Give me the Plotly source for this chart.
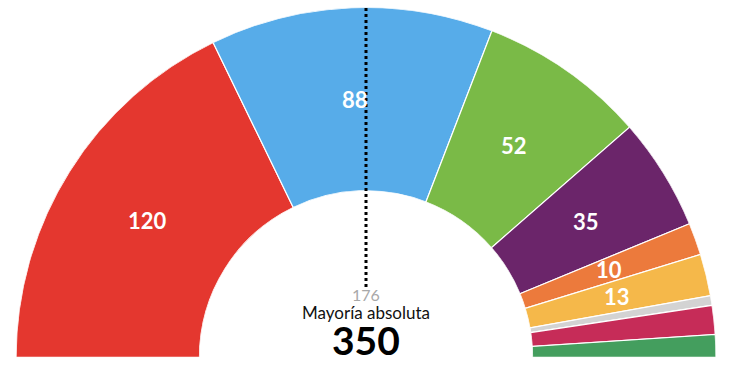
import math
import plotly.graph_objects as go

parties = ["PSOE", "PP", "Vox", "UP", "Cs", "ERC", "Otros", "JxCat", "PNV"]
seats = [120, 88, 52, 35, 10, 13, 3, 9, 7]
colors = ["#E4372F", "#57ACE9", "#7ABA47", "#6B256A", "#EC7A3C", "#F5B84A",
          "#D3D3D3", "#C62C58", "#449E5E"]
majority_label = "176"
caption = "Mayoría absoluta"
total_label = "350"

W, H = 737, 377
cx, cy = 366.0, 357.3          # hemicycle centre (px)
R_out, R_in = 350.0, 166.5     # radii (px)
hole = R_in / R_out

total = sum(seats)
widths = [s * 180.0 / total for s in seats]
thetas = []
acc = 0.0
for w in widths:
    thetas.append(acc + w / 2)
    acc += w

fig = go.Figure()
fig.add_trace(go.Barpolar(
    r=[1] * len(seats), theta=thetas, width=widths,
    marker=dict(color=colors, line=dict(color="white", width=1.2)),
    hoverinfo="text", text=[f"{p}: {s}" for p, s in zip(parties, seats)],
    showlegend=False,
))

annotations = []
r_lab = (R_in + R_out) / 2
for s, th in zip(seats, thetas):
    if s < 10:
        continue
    a = math.radians(180 - th)
    x = cx + r_lab * math.cos(a)
    y = cy - r_lab * math.sin(a)
    annotations.append(dict(x=x / W, y=1 - y / H, xref="paper", yref="paper",
                            text=f"<b>{s}</b>", showarrow=False,
                            font=dict(family="Lato", size=22, color="white"),
                            xanchor="center", yanchor="middle"))

annotations += [
    dict(x=cx / W, y=1 - 294 / H, xref="paper", yref="paper", text=majority_label,
         showarrow=False, font=dict(family="Lato", size=16, color="#A8A8A8"),
         xanchor="center", yanchor="middle"),
    dict(x=cx / W, y=1 - 312 / H, xref="paper", yref="paper", text=caption,
         showarrow=False, font=dict(family="Lato", size=17, color="#111111"),
         xanchor="center", yanchor="middle"),
    dict(x=cx / W, y=1 - 340 / H, xref="paper", yref="paper", text=f"<b>{total_label}</b>",
         showarrow=False, font=dict(family="Lato", size=39, color="#000000"),
         xanchor="center", yanchor="middle"),
]

fig.update_layout(
    width=W, height=H,
    margin=dict(l=0, r=0, t=0, b=0),
    paper_bgcolor="white", plot_bgcolor="white",
    polar=dict(
        domain=dict(x=[(cx - R_out) / W, (cx + R_out) / W],
                    y=[1 - cy / H, 1 - (cy - R_out) / H]),
        sector=[0, 180], hole=hole, bgcolor="white",
        angularaxis=dict(visible=False, rotation=180, direction="clockwise",
                         showgrid=False, showline=False, ticks=""),
        radialaxis=dict(visible=False, range=[0, 1], showgrid=False,
                        showline=False, ticks=""),
    ),
    bargap=0,
    annotations=annotations,
    shapes=[dict(type="line", xref="paper", yref="paper",
                 x0=cx / W, x1=cx / W, y0=1 - 287 / H, y1=1 - 7 / H,
                 line=dict(color="black", width=3, dash="dot"))],
)

fig.write_html("out.html")
